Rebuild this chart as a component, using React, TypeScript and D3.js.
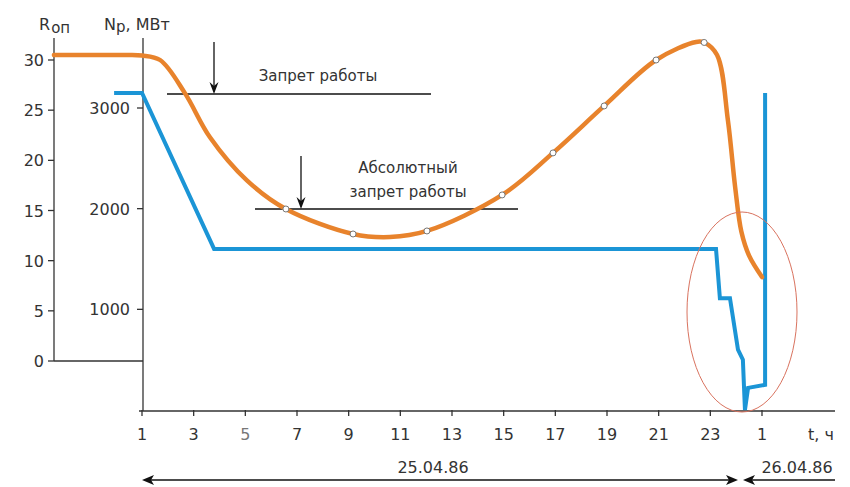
import React from "react";
import * as d3 from "d3";

const hourTicks = [1, 3, 5, 7, 9, 11, 13, 15, 17, 19, 21, 23, 25];
const hourTickLabels = ["1", "3", "5", "7", "9", "11", "13", "15", "17", "19", "21", "23", "1"];
const rTicks = [0, 5, 10, 15, 20, 25, 30];
const nTicks = [1000, 2000, 3000];

// R_op (orange) curve shape points
const rCurveHours = [-2.41, -0.5, 0.4, 1.0, 1.7, 2.66, 3.63, 5.06, 10.6, 22.45, 23.26, 23.68, 23.96, 24.2, 24.5, 25.0];
const rCurveValues = [30.5, 30.5, 30.5, 30.45, 30.0, 26.7, 22.3, 18.0, 12.35, 31.8, 30.5, 24.0, 17.35, 12.9, 10.5, 8.37];
// R_op measured points (markers)
const rMarkerHours = [6.57, 9.17, 12.03, 14.94, 16.91, 18.89, 20.9, 22.76];
const rMarkerValues = [15.15, 12.66, 12.96, 16.55, 20.74, 25.42, 30.0, 31.75];

// N_p (blue) power
const nHours = [-0.08, 1.0, 3.79, 23.22, 23.37, 23.76, 24.07, 24.26, 24.34, 24.46, 25.12, 25.12];
const nValues = [3150, 3150, 1600, 1600, 1110, 1110, 600, 500, 0, 220, 250, 3150];

const W = 850;
const H = 487;

export default function App() {
  const x = d3.scaleLinear().domain([1, 25]).range([142, 762]);
  const yR = d3.scaleLinear().domain([0, 30]).range([361, 60]);
  const yN = d3.scaleLinear().domain([0, 3000]).range([410, 108]);

  const rPts: [number, number][] = rCurveHours
    .map((h, i) => [h, rCurveValues[i]] as [number, number])
    .concat(rMarkerHours.map((h, i) => [h, rMarkerValues[i]] as [number, number]))
    .sort((a, b) => a[0] - b[0]);

  const rLine = d3
    .line<[number, number]>()
    .x((d) => x(d[0]))
    .y((d) => yR(d[1]))
    .curve(d3.curveCatmullRom.alpha(0.5));

  const nLine = d3
    .line<number>()
    .x((_, i) => x(nHours[i]))
    .y((d) => yN(d))
    .curve(d3.curveLinear);

  const axisColor = "#333";
  const textColor = "#333";
  const font = "DejaVu Sans, Verdana, sans-serif";
  const orange = "#E8832C";
  const blue = "#1B95D6";

  const xAxisY = yN(0) + 1;
  const rAxisX = 54;
  const nAxisX = 143;

  const arrowDown = (cx: number, y1: number, y2: number, key: string) => (
    <g key={key}>
      <line x1={cx} y1={y1} x2={cx} y2={y2 - 6} stroke="#111" strokeWidth={1.3} />
      <path d={`M${cx - 4.5},${y2 - 12} L${cx},${y2} L${cx + 4.5},${y2 - 12} L${cx},${y2 - 8} Z`} fill="#111" />
    </g>
  );

  return (
    <svg
      width={W}
      height={H}
      style={{ position: "absolute", left: 0, top: 0, background: "#fff" }}
      fontFamily={font}
    >
      <rect width={W} height={H} fill="#fff" />

      {/* axis titles */}
      <text x={39} y={30} fontSize={16} fill={textColor}>
        R<tspan fontSize={15} dy={3} dx={1}>оп</tspan>
      </text>
      <text x={104} y={30} fontSize={16} fill={textColor}>
        N<tspan fontSize={15} dy={2}>р</tspan>
        <tspan dy={-2}>, МВт</tspan>
      </text>

      {/* R axis */}
      <line x1={rAxisX} y1={38} x2={rAxisX} y2={yR(0)} stroke={axisColor} strokeWidth={1.3} />
      <line x1={rAxisX} y1={yR(0)} x2={nAxisX} y2={yR(0)} stroke={axisColor} strokeWidth={1.3} />
      {rTicks.map((t) => (
        <g key={"r" + t}>
          <line x1={rAxisX - 6} x2={rAxisX} y1={yR(t)} y2={yR(t)} stroke={axisColor} strokeWidth={1.3} />
          <text x={rAxisX - 10} y={yR(t) + 6} fontSize={16} textAnchor="end" fill={textColor}>
            {t}
          </text>
        </g>
      ))}

      {/* N axis */}
      <line x1={nAxisX} y1={38} x2={nAxisX} y2={xAxisY} stroke={axisColor} strokeWidth={1.3} />
      {nTicks.map((t) => (
        <g key={"n" + t}>
          <line x1={nAxisX - 6} x2={nAxisX} y1={yN(t)} y2={yN(t)} stroke={axisColor} strokeWidth={1.3} />
          <text x={nAxisX - 13} y={yN(t) + 6} fontSize={16} textAnchor="end" fill={textColor}>
            {t}
          </text>
        </g>
      ))}

      {/* X axis */}
      <line x1={nAxisX - 4} y1={xAxisY} x2={835} y2={xAxisY} stroke={axisColor} strokeWidth={1.3} />
      {hourTicks.map((t, i) => (
        <g key={"x" + i}>
          <line x1={x(t)} x2={x(t)} y1={xAxisY - 1} y2={xAxisY + 5} stroke={axisColor} strokeWidth={1.3} />
          <text
            x={x(t)}
            y={440}
            fontSize={16}
            textAnchor="middle"
            fill={t === 5 ? "#777" : textColor}
          >
            {hourTickLabels[i]}
          </text>
        </g>
      ))}
      <text x={821} y={440} fontSize={16} textAnchor="middle" fill={textColor}>
        t, ч
      </text>

      {/* Date arrows */}
      <line x1={150} y1={480} x2={730} y2={480} stroke="#111" strokeWidth={1.3} />
      <path d="M142,480 L154,475 L151,480 L154,485 Z" fill="#111" />
      <path d="M738,480 L726,475 L729,480 L726,485 Z" fill="#111" />
      <line x1={750} y1={480} x2={835} y2={480} stroke="#111" strokeWidth={1.3} />
      <path d="M743,480 L755,475 L752,480 L755,485 Z" fill="#111" />
      <text x={433} y={473} fontSize={16} textAnchor="middle" fill={textColor}>
        25.04.86
      </text>
      <text x={797} y={473} fontSize={16} textAnchor="middle" fill={textColor}>
        26.04.86
      </text>

      {/* Annotations */}
      <line x1={167} y1={94} x2={431} y2={94} stroke="#111" strokeWidth={1.3} />
      {arrowDown(214, 42, 94, "a1")}
      <text x={318} y={81} fontSize={15} textAnchor="middle" fill={textColor}>
        Запрет работы
      </text>
      <line x1={255} y1={209} x2={518} y2={209} stroke="#111" strokeWidth={1.3} />
      {arrowDown(301, 156, 209, "a2")}
      <text x={408} y={173} fontSize={15} textAnchor="middle" fill={textColor}>
        Абсолютный
      </text>
      <text x={408} y={197} fontSize={15} textAnchor="middle" fill={textColor}>
        запрет работы
      </text>

      {/* Blue N_p line */}
      <path d={nLine(nValues) || ""} fill="none" stroke={blue} strokeWidth={4} strokeLinejoin="miter" />

      {/* Orange R_op curve */}
      <path d={rLine(rPts) || ""} fill="none" stroke={orange} strokeWidth={4.5} strokeLinecap="round" />
      {rMarkerHours.map((h, i) => (
        <circle
          key={"m" + i}
          cx={x(h)}
          cy={yR(rMarkerValues[i])}
          r={3}
          fill="#fff"
          stroke="#777"
          strokeWidth={1}
        />
      ))}

      {/* Ellipse highlight */}
      <ellipse cx={742} cy={312} rx={55} ry={100} fill="none" stroke="#D9735F" strokeWidth={1} />
    </svg>
  );
}
